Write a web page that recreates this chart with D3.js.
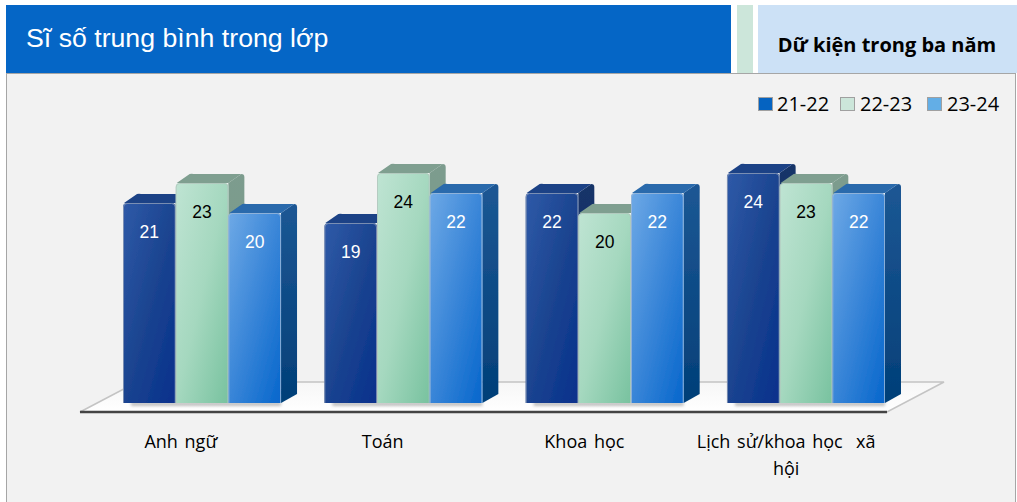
<!DOCTYPE html>
<html><head><meta charset="utf-8">
<script src="https://d3js.org/d3.v7.min.js"></script>
<style>html,body{margin:0;padding:0;background:#fff}svg{display:block}text{white-space:pre}</style></head>
<body><svg id="c" width="1017" height="502"></svg>
<script>
const categories = ["Anh ngữ","Toán","Khoa học","Lịch sử/khoa học  xã hội"];
const categoryLines = [["Anh ngữ"],["Toán"],["Khoa học"],["Lịch sử/khoa học  xã","hội"]];
const seriesNames = ["21-22","22-23","23-24"];
const s2122 = [21,19,22,24];
const s2223 = [23,24,20,23];
const s2324 = [20,22,22,22];
const seriesValues = [s2122,s2223,s2324];
const legendColors = ["#0563c1","#cce6da","#63aee6"];
const labelColors = ["#fff","#000","#fff"];
const palettes = [
 {f:["#2f5aa8","#1b4490","#06308c"],s:["#163468","#0d2b70"],t:"#1d4386",e:"#8f9db8"},
 {f:["#bfe4d3","#a5d8bf","#78c29f"],s:["#7d9c8e","#6f9a85"],t:"#7f9f90",e:"#b3c6bd"},
 {f:["#6ea9e6","#3a86d8","#0666cc"],s:["#1c5794","#023f78"],t:"#2a6aac",e:"#9db9d8"}
];
const DX=16, DY=9, BASE=403;
const svg=d3.select("#c");
const defs=svg.append("defs");
const font="'Open Sans','Noto Sans',sans-serif", arial="'Liberation Sans',Arial,sans-serif";

palettes.forEach((p,i)=>{
  const g=defs.append("linearGradient").attr("id","f"+i).attr("x1",0).attr("y1",0).attr("x2",1).attr("y2",1);
  p.f.forEach((c,k)=>g.append("stop").attr("offset",k/(p.f.length-1)).attr("stop-color",c));
  const s=defs.append("linearGradient").attr("id","s"+i).attr("x1",0).attr("y1",0).attr("x2",0).attr("y2",1);
  p.s.forEach((c,k)=>s.append("stop").attr("offset",k).attr("stop-color",c));
});
const fg=defs.append("linearGradient").attr("id","floor").attr("x1",0).attr("y1",0).attr("x2",0).attr("y2",1);
fg.append("stop").attr("offset",0).attr("stop-color","#f6f6f6");
fg.append("stop").attr("offset",1).attr("stop-color","#ffffff");
defs.append("filter").attr("id","soft").attr("x","-20%").attr("y","-200%").attr("width","140%").attr("height","500%")
  .append("feGaussianBlur").attr("stdDeviation",1.5);
defs.append("filter").attr("id","bar").attr("x","-5%").attr("y","-5%").attr("width","110%").attr("height","110%")
  .append("feGaussianBlur").attr("stdDeviation",0.45);

// header and panel
svg.append("rect").attr("x",6).attr("y",5).attr("width",725).attr("height",68).attr("fill","#0566c6");
svg.append("rect").attr("x",737).attr("y",5).attr("width",16).attr("height",68).attr("fill","#cce6da");
svg.append("rect").attr("x",758).attr("y",5).attr("width",259).attr("height",68).attr("fill","#cce1f6");
svg.append("rect").attr("x",6.5).attr("y",73.5).attr("width",1009).attr("height",430).attr("fill","#f2f2f2").attr("stroke","#a6a6a6");
svg.append("text").attr("x",26).attr("y",47).attr("fill","#fff").attr("font-family",arial).attr("font-size",26.7).text("Sĩ số trung bình trong lớp");
svg.append("text").attr("x",887).attr("y",52).attr("text-anchor","middle").attr("fill","#000").attr("font-family",font).attr("font-weight",700).attr("font-size",20).text("Dữ kiện trong ba năm");

// floor
const floorL=80, floorR=887, floorY=412, backY=382;
svg.append("path").attr("d",`M${floorL},${floorY}L${floorL+57},${backY}L${floorR+57},${backY}L${floorR},${floorY}Z`)
  .attr("fill","url(#floor)").attr("stroke","#c4c4c4").attr("stroke-width",1.6);
svg.append("line").attr("x1",floorL).attr("x2",floorR).attr("y1",floorY).attr("y2",floorY).attr("stroke","#444").attr("stroke-width",2.4);

// scales
const y=d3.scaleLinear().domain([1,25]).range([BASE,BASE-240]);
const x0=d3.scaleBand().domain(categories).range([123,885]).paddingInner(0.215).paddingOuter(0);
const x1=d3.scaleBand().domain(seriesNames).range([0,x0.bandwidth()]);
const axisX=d3.scaleBand().domain(categories).range([floorL,floorR]);

categories.forEach((cat,ci)=>{
  const g=svg.append("g");
  g.append("rect").attr("x",x0(cat)+8).attr("y",BASE-1).attr("width",x0.bandwidth()-8).attr("height",4)
    .attr("fill","#777").attr("opacity",.45).attr("filter","url(#soft)");
  const bars=g.append("g").attr("filter","url(#bar)");
  seriesNames.forEach((name,si)=>{
    const v=seriesValues[si][ci];
    const xl=x0(cat)+x1(name), w=x1.bandwidth(), xr=xl+w, yt=y(v), r=4;
    const b=bars.append("g");
    b.append("path").attr("d",`M${xr},${yt}L${xr+DX-3},${yt-DY}Q${xr+DX},${yt-DY} ${xr+DX},${yt-DY+3}L${xr+DX},${BASE-DY}L${xr},${BASE}Z`).attr("fill",`url(#s${si})`);
    b.append("path").attr("d",`M${xl+1},${yt}L${xl+DX-2},${yt-DY}Q${xl+DX},${yt-DY-.5} ${xl+DX+2},${yt-DY}L${xr+DX-3},${yt-DY}L${xr},${yt}Z`).attr("fill",palettes[si].t);
    b.append("path").attr("d",`M${xl},${BASE}V${yt+r}Q${xl},${yt} ${xl+r},${yt}H${xr-r}Q${xr},${yt} ${xr},${yt+r}V${BASE}Z`).attr("fill",`url(#f${si})`);
    b.append("path").attr("d",`M${xl+.5},${BASE}V${yt+r}Q${xl+.5},${yt+.5} ${xl+r},${yt+.5}H${xr-r}Q${xr-.5},${yt+.5} ${xr-.5},${yt+r}V${BASE}`).attr("fill","none").attr("stroke",palettes[si].e).attr("stroke-width",1).attr("opacity",.8);
  });
  seriesNames.forEach((name,si)=>{
    const v=seriesValues[si][ci];
    g.append("text").attr("x",x0(cat)+x1(name)+x1.bandwidth()/2).attr("y",y(v)+34.5)
      .attr("text-anchor","middle").attr("font-family",arial).attr("font-size",17.5).attr("fill",labelColors[si]).text(v);
  });
});

// category labels
const axis=svg.append("g").attr("transform",`translate(0,${floorY})`).call(d3.axisBottom(axisX).tickSize(0).tickFormat(""));
axis.select(".domain").remove();
axis.selectAll(".tick").each(function(d,i){
  const t=d3.select(this).select("text").attr("y",null).attr("dy",null);
  categoryLines[i].forEach((ln,k)=>t.append("tspan").attr("x",0).attr("y",36+k*27).text(ln));
  t.attr("font-family",font).attr("font-size",18).attr("word-spacing",2).attr("fill","#000").attr("text-anchor","middle");
});

// legend
const legendX=[758,840,927], legendTextX=[777,860,947];
seriesNames.forEach((n,i)=>{
  svg.append("rect").attr("x",legendX[i]+.5).attr("y",97.5).attr("width",14).attr("height",13).attr("fill",legendColors[i]).attr("stroke","#a0a0a0");
  svg.append("text").attr("x",legendTextX[i]).attr("y",111).attr("font-family",font).attr("font-size",20).attr("fill","#000").text(n);
});
</script></body></html>
